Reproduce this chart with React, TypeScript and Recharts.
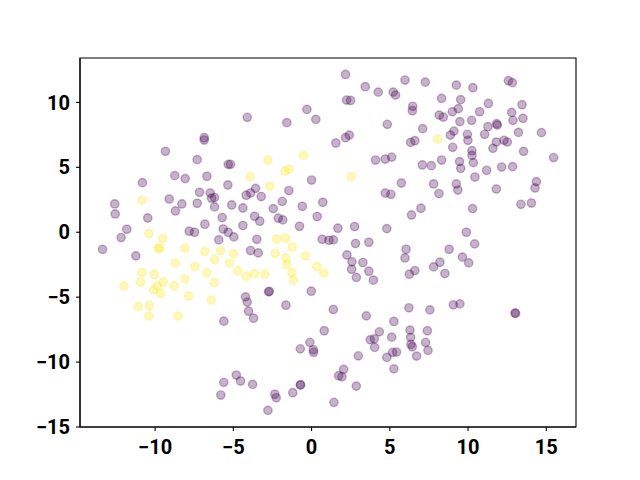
import React from "react";
import { ScatterChart, Scatter, XAxis, YAxis, ReferenceArea } from "recharts";

const xTicks = [-10, -5, 0, 5, 10, 15];
const yTicks = [-15, -10, -5, 0, 5, 10];
const xDomain = [-14.8, 16.9];
const yDomain = [-15, 13.42];

// class 0 (purple) points [x, y]
const purplePoints: [number, number][] = [
  [-4.11, 8.85], [-6.86, 7.28], [-6.86, 7.1], [-9.34, 6.23], [-7.31, 5.59], [-5.33, 5.23], [-5.18, 5.23],
  [-8.74, 4.36], [-8.08, 4.13], [-6.69, 4.31], [-10.81, 3.82], [-5.35, 3.64], [-7.16, 3.08], [-6.48, 3.02],
  [-6.39, 2.62], [-6.2, 2.67], [-4.18, 2.85], [-3.9, 3.02], [-12.58, 2.18], [-9.1, 2.56], [-8.29, 2.18],
  [-7.31, 2.23], [-5.1, 2.1], [-6.2, 1.95], [-4.39, 1.87], [-12.55, 1.41], [-8.7, 1.64], [-10.47, 1.1],
  [-5.71, 1.13], [-6.82, 0.62], [-4.39, 0.52], [-11.81, 0.23], [-12.17, -0.41], [-7.82, 0.08], [-7.48, 0.0],
  [-5.65, 0.25], [-5.33, 0.0], [-4.97, -0.36], [-5.93, -0.59], [-13.36, -1.32], [-11.23, -1.82], [-3.9, -1.41],
  [-4.22, -4.98], [-4.11, -5.38], [-4.03, -6.08], [-3.71, -6.62], [-5.61, -6.85], [-4.81, -11.0], [-4.54, -11.46],
  [-5.61, -11.56], [-5.8, -12.54], [-3.77, -11.72],
  [2.17, 12.15], [3.43, 11.21], [4.26, 10.79], [5.22, 10.79], [5.37, 10.56], [5.97, 11.72], [2.24, 10.18],
  [2.49, 10.15], [-0.3, 9.46], [-1.58, 8.44], [0.27, 8.69], [4.84, 8.31], [6.46, 9.7], [6.44, 9.36],
  [1.55, 6.87], [2.17, 7.28], [2.41, 7.48], [6.33, 6.92], [6.6, 7.05], [4.09, 5.56], [4.71, 5.64], [5.12, 5.79],
  [0.0, 4.02], [5.74, 3.79], [4.71, 3.02], [5.07, 2.92], [-3.58, 3.38], [-3.22, 2.75], [-1.45, 3.21],
  [-1.87, 2.38], [0.72, 2.31], [-0.59, 2.0], [-2.45, 1.82], [-3.64, 1.23], [-3.31, 0.85], [-2.13, 1.08],
  [-1.84, 0.95], [0.36, 1.21], [6.39, 1.33], [-0.77, 0.46], [1.68, 0.31], [2.75, 0.44], [4.81, 0.28],
  [-3.5, -0.54], [0.68, -0.54], [1.11, -0.62], [1.39, -0.59], [2.81, -0.87], [3.66, -0.77], [6.04, -1.31],
  [-3.41, -1.59], [2.26, -1.75], [2.58, -2.28], [2.56, -2.85], [3.28, -2.33], [3.66, -3.0], [2.86, -3.48],
  [3.95, -3.69], [5.97, -1.98], [6.25, -3.23], [6.6, -2.95], [-2.75, -4.59], [-2.7, -4.55], [-0.02, -4.54],
  [-1.64, -5.62], [1.39, -5.95], [3.5, -6.44], [6.22, -5.82], [5.26, -6.87], [0.81, -7.59], [4.33, -7.67],
  [3.75, -8.28], [4.01, -8.21], [5.12, -8.08], [6.29, -7.54], [6.33, -8.1], [6.35, -8.64], [6.44, -8.82],
  [4.03, -8.87], [-0.11, -8.48], [-0.72, -8.98], [0.11, -9.05], [0.13, -9.25], [2.99, -9.52], [4.81, -9.64],
  [5.18, -9.25], [5.43, -9.23], [5.26, -10.52], [2.05, -10.56], [1.73, -11.05], [1.94, -11.13], [2.86, -11.85],
  [-0.72, -11.77], [-0.7, -11.74], [-2.35, -12.48], [-2.26, -12.75], [-1.2, -12.36], [1.43, -13.1], [-2.79, -13.72],
  [7.27, 11.56], [9.25, 11.33], [10.31, 11.13], [12.58, 11.67], [12.83, 11.52], [8.31, 10.31], [9.53, 10.21],
  [11.3, 9.92], [13.45, 9.82], [9.0, 9.28], [9.38, 9.52], [10.74, 9.28], [12.79, 9.23], [8.16, 9.02],
  [8.42, 8.87], [9.48, 8.52], [10.23, 8.62], [12.87, 8.62], [13.51, 8.77], [7.1, 7.98], [11.27, 8.13],
  [11.83, 8.36], [11.87, 8.25], [9.1, 7.79], [8.87, 7.48], [9.96, 7.54], [9.99, 7.08], [11.06, 7.54],
  [13.22, 7.69], [14.69, 7.67], [11.81, 6.95], [12.3, 7.08], [12.51, 6.95], [11.59, 6.46], [9.02, 6.54],
  [10.25, 6.28], [10.25, 5.92], [13.55, 6.23], [15.47, 5.75], [7.08, 5.18], [7.65, 5.13], [8.31, 5.56],
  [9.46, 5.44], [9.53, 4.92], [10.34, 5.36], [11.19, 4.77], [12.15, 5.02], [12.85, 5.05], [10.44, 4.25],
  [7.8, 3.72], [8.14, 2.98], [9.25, 3.72], [9.35, 3.25], [11.81, 3.33], [14.37, 3.9], [14.28, 3.41],
  [13.38, 2.15], [14.05, 2.25], [6.99, 1.85], [10.29, 1.82], [9.89, 0.0], [10.42, -0.9], [8.79, -1.31],
  [9.64, -1.92], [10.04, -2.36], [8.2, -2.31], [7.8, -2.67], [8.52, -3.18], [7.56, -5.98], [9.06, -5.59],
  [9.48, -5.52], [13.04, -6.25], [13.0, -6.22], [7.4, -7.59], [7.29, -8.48], [7.44, -9.1], [6.71, -9.54],
];

// class 1 (yellow) points [x, y]
const yellowPoints: [number, number][] = [
  [-10.85, 2.46], [-10.4, -0.1], [-9.53, -0.48], [-9.78, -1.25], [-9.74, -1.22], [-8.1, -1.23], [-6.82, -1.48],
  [-5.82, -1.41], [-4.99, -1.67], [-6.2, -2.1], [-8.71, -2.38], [-7.46, -2.62], [-5.24, -2.38], [-4.71, -2.98],
  [-4.18, -3.38], [-10.85, -3.1], [-10.04, -3.25], [-6.69, -3.1], [-10.93, -3.85], [-11.98, -4.13],
  [-9.48, -3.85], [-9.85, -4.13], [-10.12, -4.46], [-9.65, -4.72], [-8.78, -4.13], [-8.1, -3.59],
  [-6.22, -3.87], [-7.86, -4.92], [-6.41, -5.23], [-11.08, -5.72], [-10.38, -5.64], [-10.4, -6.46],
  [-8.55, -6.46], [-3.93, 4.27], [-2.79, 5.56], [-0.51, 5.9], [-1.71, 4.69], [-1.45, 4.87], [2.54, 4.28],
  [-2.67, 3.54], [-2.24, -0.52], [-1.68, -0.46], [-1.23, -1.14], [-2.32, -1.62], [-1.64, -1.98],
  [-1.58, -2.48], [-0.4, -1.82], [-1.26, -3.1], [-1.17, -3.69], [0.34, -2.64], [0.79, -3.13],
  [-3.64, -3.21], [-2.99, -3.23], [8.06, 7.18],
];

const purpleData = purplePoints.map(([x, y]) => ({ x, y }));
const yellowData = yellowPoints.map(([x, y]) => ({ x, y }));

const fmt = (v: number) => (v < 0 ? "\u2212" + Math.abs(v) : String(v));

const makeShape = (color: string) => (p: any) => (
  <circle
    cx={p.cx}
    cy={p.cy}
    r={4.17}
    fill={color}
    fillOpacity={0.3}
    stroke={color}
    strokeOpacity={0.3}
    strokeWidth={1.39}
  />
);

const tickStyle = { fontFamily: "Roboto", fontWeight: 700, fontSize: 20, fill: "#000" };

export default function App() {
  return (
    <div style={{ position: "absolute", left: 0, top: 0, width: 640, height: 480, background: "#fff" }}>
      <ScatterChart width={640} height={480} margin={{ top: 58, right: 64, bottom: 0, left: 0 }}>
        <XAxis
          type="number"
          dataKey="x"
          domain={xDomain}
          ticks={xTicks}
          tickFormatter={fmt}
          allowDataOverflow
          height={53}
          tickSize={4}
          tickMargin={9}
          stroke="#000"
          tick={tickStyle}
          axisLine={{ stroke: "#000", strokeWidth: 1.1 }}
          tickLine={{ stroke: "#000", strokeWidth: 1.1 }}
        />
        <YAxis
          type="number"
          dataKey="y"
          domain={yDomain}
          ticks={yTicks}
          tickFormatter={fmt}
          allowDataOverflow
          width={80}
          tickSize={4}
          tickMargin={6}
          stroke="#000"
          tick={tickStyle}
          axisLine={{ stroke: "#000", strokeWidth: 1.1 }}
          tickLine={{ stroke: "#000", strokeWidth: 1.1 }}
        />
        <ReferenceArea
          x1={xDomain[0]}
          x2={xDomain[1]}
          y1={yDomain[0]}
          y2={yDomain[1]}
          fill="none"
          stroke="#000"
          strokeWidth={1.1}
          ifOverflow="visible"
        />
        <Scatter data={purpleData} shape={makeShape("#440154")} isAnimationActive={false} />
        <Scatter data={yellowData} shape={makeShape("#fde725")} isAnimationActive={false} />
      </ScatterChart>
    </div>
  );
}
